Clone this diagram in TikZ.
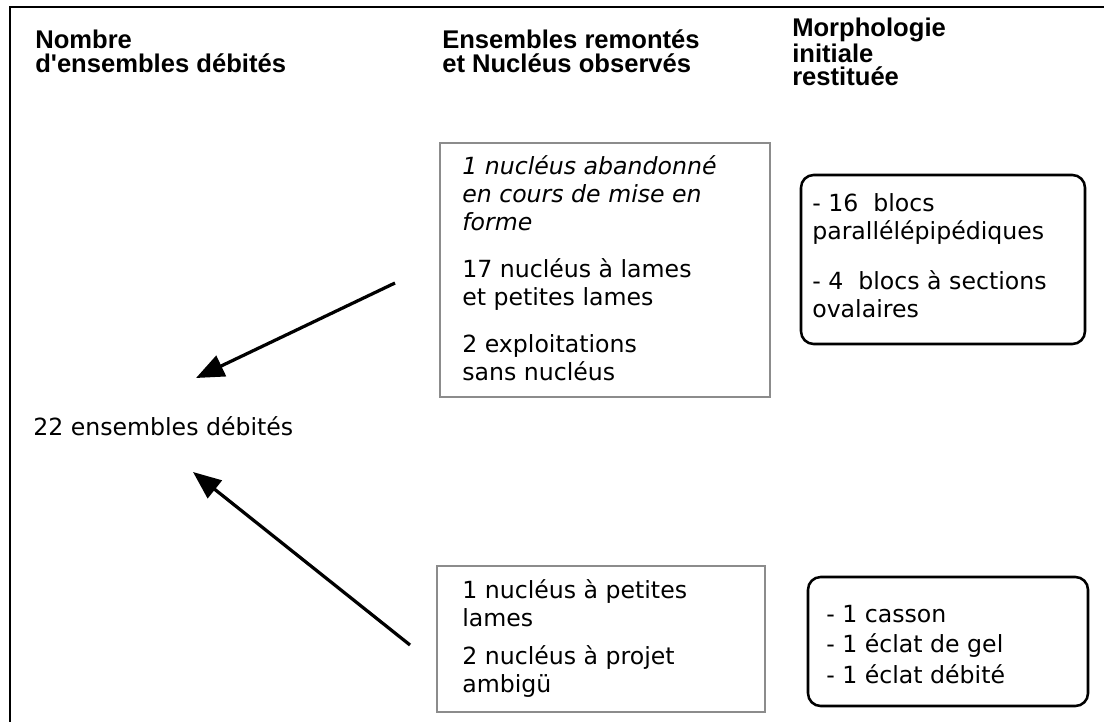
\documentclass[tikz,border=0pt]{standalone}
\usepackage{fontspec}
\setmainfont{DejaVu Sans}
\newfontfamily\titrefont{Liberation Sans}
\usetikzlibrary{arrows.meta}

\tikzset{
  titre/.style={anchor=base west, inner sep=0pt, align=left,
    font=\titrefont\bfseries\fontsize{18.2}{17.7}\selectfont},
  texte/.style={anchor=base west, inner sep=0pt, align=left,
    font=\fontsize{16.8}{19.9}\selectfont},
  boitegrise/.style={draw=black!45, line width=1.4pt},
  boitenoire/.style={draw=black, line width=1.8pt, rounded corners=9pt},
  fleche/.style={line width=2.3pt, -{Triangle[length=0.7cm,width=0.56cm]}}
}

\begin{document}
\begin{tikzpicture}[x=0.025cm,y=-0.025cm] % coordonnées en pixels
  \useasboundingbox (0,0) rectangle (1104,722);
  % cadre
  \draw[line width=2pt] (10,722) -- (10,7) -- (1104,7);
  % titres des colonnes (ancre = ligne de base de la dernière ligne)
  \node[titre] (nombre) at (35,73) {Nombre\\d'ensembles débités};
  \node[titre] (remontes) at (442,73) {Ensembles remontés\\et Nucléus observés};
  \node[titre, font=\titrefont\bfseries\fontsize{18.2}{17}\selectfont] (morpho) at (792,86) {Morphologie\\initiale\\restituée};
  % boites
  \draw[boitegrise] (440,143) rectangle (770,397);
  \draw[boitenoire] (801,175) rectangle (1085,344);
  \draw[boitegrise] (437,566) rectangle (765,712);
  \draw[boitenoire] (808,577) rectangle (1088,706);
  % textes
  \node[texte] (nucleus) at (462,380) {\itshape 1 nucléus abandonné\\\itshape en cours de mise en\\\itshape forme\\[0.475cm]
    17 nucléus à lames\\et petites lames\\[0.475cm]
    2 exploitations\\sans nucléus};
  \node[texte] (blocs) at (812,317) {- 16 \ blocs\\parallélépipédiques\\[0.55cm]
    - 4 \ blocs à sections\\ovalaires};
  \node[texte] (petites) at (462,692) {1 nucléus à petites\\lames\\[0.25cm]
    2 nucléus à projet\\ambigü};
  \node[texte, font=\fontsize{16.8}{21.5}\selectfont] (casson) at (826,683) {- 1 casson\\- 1 éclat de gel\\- 1 éclat débité};
  \node[texte] (total) at (33,435) {22 ensembles débités};
  % fleches
  \coordinate (depart1) at (395,283);
  \coordinate (fin1) at (196,378);
  \coordinate (depart2) at (410,645);
  \coordinate (fin2) at (193,472);
  \draw[fleche] (depart1) -- (fin1);
  \draw[fleche] (depart2) -- (fin2);
\end{tikzpicture}
\end{document}
